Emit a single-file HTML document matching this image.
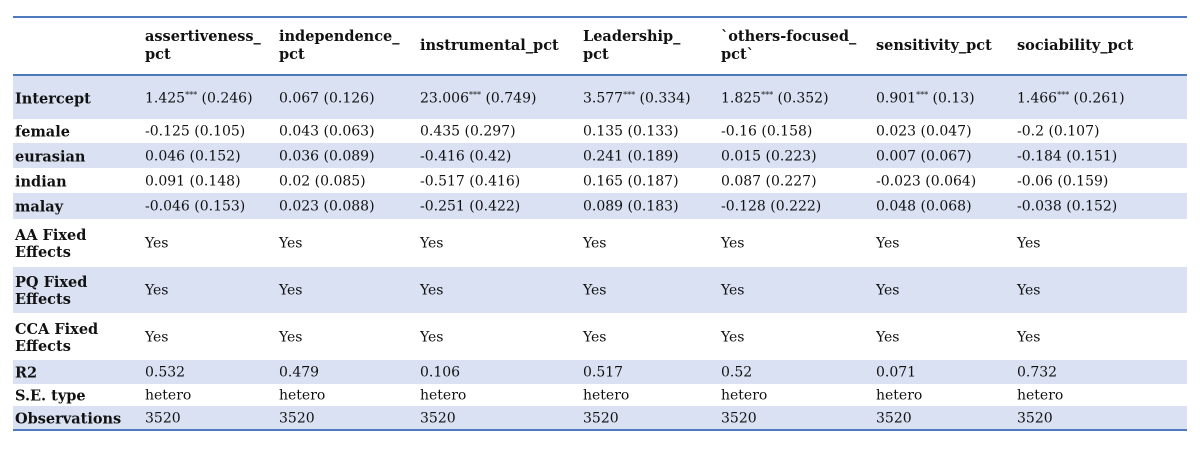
<!DOCTYPE html>
<html><head><meta charset="utf-8"><style>
body{margin:0;width:1200px;height:453px;background:#fff;position:relative;font-family:"DejaVu Serif","Liberation Serif",serif;color:#111;overflow:hidden}
.line{position:absolute;left:13px;width:1174px;background:#4f79bd}
.row{position:absolute;left:13px;width:1174px}
.c{position:absolute;font-size:14px;line-height:17px;white-space:nowrap;transform:translateY(-50%)}
.l{font-weight:bold;font-size:14.5px;left:2px}
.h{font-weight:bold;font-size:14.5px;line-height:18px}
sup{font-size:8px;vertical-align:5px;line-height:0}
</style></head><body>
<div class="line" style="top:16px;height:2px"></div>
<div class="line" style="top:74px;height:2px"></div>
<div class="line" style="top:429px;height:2px"></div>
<div id="hdr"></div><div id="body"></div>
<script>
const colX=[145,279,420,583,721,876,1017];
const headers=["assertiveness_<br>pct","independence_<br>pct","instrumental_pct","Leadership_<br>pct","`others-focused_<br>pct`","sensitivity_pct","sociability_pct"];
const rowLabels=["Intercept","female","eurasian","indian","malay","AA Fixed<br>Effects","PQ Fixed<br>Effects","CCA Fixed<br>Effects","R2","S.E. type","Observations"];
const rowTops=[76,119,143,168,193,219,267,313,360,384,406,429];
const cells=[
["1.425<sup>***</sup> (0.246)","0.067 (0.126)","23.006<sup>***</sup> (0.749)","3.577<sup>***</sup> (0.334)","1.825<sup>***</sup> (0.352)","0.901<sup>***</sup> (0.13)","1.466<sup>***</sup> (0.261)"],
["-0.125 (0.105)","0.043 (0.063)","0.435 (0.297)","0.135 (0.133)","-0.16 (0.158)","0.023 (0.047)","-0.2 (0.107)"],
["0.046 (0.152)","0.036 (0.089)","-0.416 (0.42)","0.241 (0.189)","0.015 (0.223)","0.007 (0.067)","-0.184 (0.151)"],
["0.091 (0.148)","0.02 (0.085)","-0.517 (0.416)","0.165 (0.187)","0.087 (0.227)","-0.023 (0.064)","-0.06 (0.159)"],
["-0.046 (0.153)","0.023 (0.088)","-0.251 (0.422)","0.089 (0.183)","-0.128 (0.222)","0.048 (0.068)","-0.038 (0.152)"],
["Yes","Yes","Yes","Yes","Yes","Yes","Yes"],
["Yes","Yes","Yes","Yes","Yes","Yes","Yes"],
["Yes","Yes","Yes","Yes","Yes","Yes","Yes"],
["0.532","0.479","0.106","0.517","0.52","0.071","0.732"],
["hetero","hetero","hetero","hetero","hetero","hetero","hetero"],
["3520","3520","3520","3520","3520","3520","3520"]];
const hdr=document.getElementById('hdr');
headers.forEach((h,i)=>{
 const d=document.createElement('div');
 
 
 d.className='c h';d.style.left=colX[i]+'px';d.style.top='46px';d.innerHTML=h;hdr.appendChild(d);
});
const body=document.getElementById('body');
rowLabels.forEach((lab,r)=>{
 const row=document.createElement('div');
 
 
 row.className='row';
 const top=rowTops[r],h=rowTops[r+1]-top;
 row.style.top=top+'px';row.style.height=h+'px';
 row.style.background=(r%2===0)?'#d9e1f2':'#fff';
 const mid=h/2+1;
 const l=document.createElement('div');
 
 
 l.className='c l';l.style.top=mid+'px';l.innerHTML=lab;row.appendChild(l);
 cells[r].forEach((v,i)=>{
  const c=document.createElement('div');
  
  
  c.className='c';c.style.left=(colX[i]-13)+'px';c.style.top=mid+'px';c.innerHTML=v;row.appendChild(c);
 });
 body.appendChild(row);
});
</script>
</body></html>
